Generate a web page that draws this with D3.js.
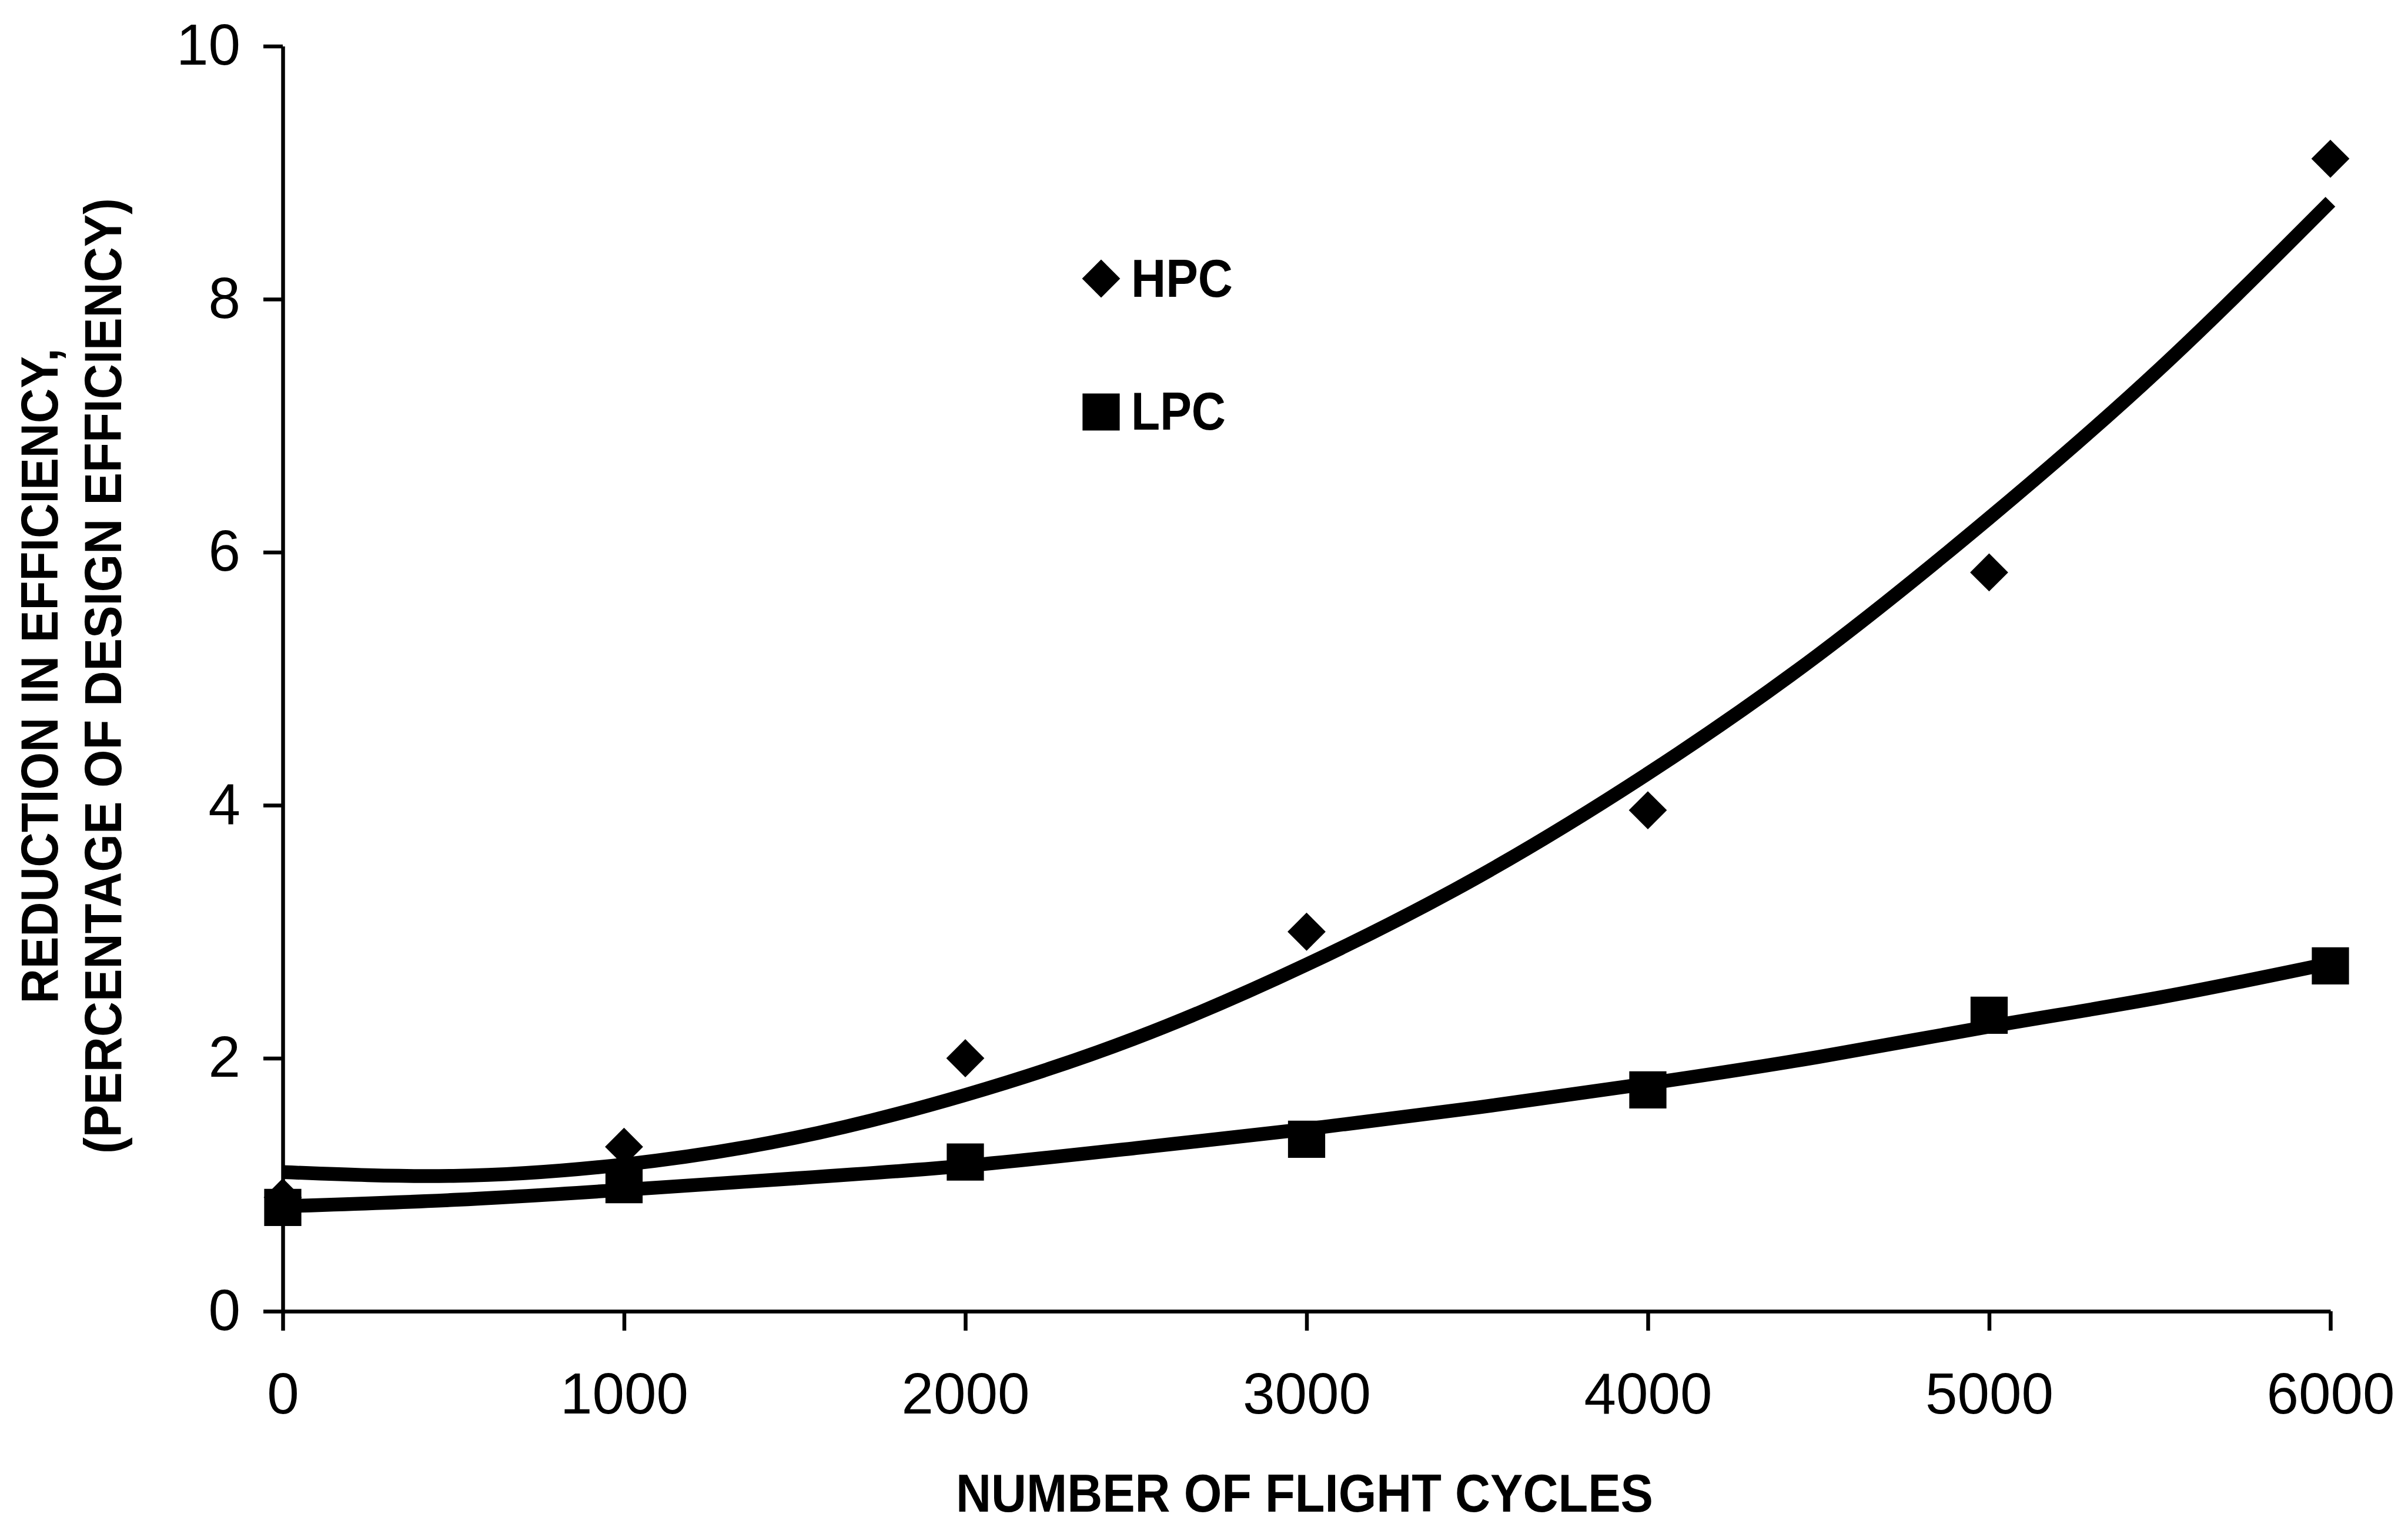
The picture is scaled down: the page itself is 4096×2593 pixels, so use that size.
<!DOCTYPE html>
<html>
<head>
<meta charset="utf-8">
<script src="https://cdn.jsdelivr.net/npm/d3@7"></script>
<style>
  html, body { margin: 0; padding: 0; background: #fff; }
  svg { display: block; }
</style>
</head>
<body>
<svg id="chart"></svg>
<script>
// values
const cycles = [0, 1000, 2000, 3000, 4000, 5000, 6000];
const hpcValues = [0.9, 1.3, 2.0, 3.0, 3.96, 5.84, 9.11];
const lpcValues = [0.82, 1.0, 1.18, 1.36, 1.75, 2.34, 2.73];

// trend curves as they appear in the picture, read every 500 cycles
const trendCycles = [0, 500, 1000, 1500, 2000, 2500, 3000, 3500, 4000, 4500, 5000, 5500, 6000];
const hpcTrend = [1.10, 1.07, 1.16, 1.37, 1.71, 2.16, 2.74, 3.43, 4.25, 5.19, 6.27, 7.45, 8.77];
const lpcTrend = [0.83, 0.88, 0.96, 1.05, 1.15, 1.29, 1.44, 1.61, 1.80, 2.01, 2.25, 2.48, 2.75];

const xTicks = [0, 1000, 2000, 3000, 4000, 5000, 6000];
const yTicks = [0, 2, 4, 6, 8, 10];
const seriesNames = ["HPC", "LPC"];

const width = 4096;
const height = 2593;
const font = "'Liberation Sans', Arial, Helvetica, sans-serif";

const svg = d3.select("#chart")
    .attr("width", width)
    .attr("height", height)
    .attr("viewBox", `0 0 ${width} ${height}`);

svg.append("rect")
    .attr("width", width)
    .attr("height", height)
    .attr("fill", "#fff");

const x = d3.scaleLinear().domain([0, 6000]).range([481, 3964]);
const y = d3.scaleLinear().domain([0, 10]).range([2231, 78.5]);

// axes
const xAxis = svg.append("g")
    .attr("transform", `translate(0, ${y(0)})`)
    .call(d3.axisBottom(x).tickValues(xTicks).tickFormat(d3.format("d"))
        .tickSize(33).tickSizeOuter(0).tickPadding(71));

const yAxis = svg.append("g")
    .attr("transform", `translate(${x(0)}, 0)`)
    .call(d3.axisLeft(y).tickValues(yTicks).tickFormat(d3.format("d"))
        .tickSize(33).tickSizeOuter(0).tickPadding(39));

[xAxis, yAxis].forEach(g => {
  g.selectAll("path, line")
      .attr("stroke", "#000")
      .attr("stroke-width", 6.5);
  g.selectAll("text")
      .attr("fill", "#000")
      .attr("font-family", font)
      .attr("font-size", 98);
});

// trend lines (evenly spaced points, so the natural spline stays smooth)
const line = d3.line()
    .x((d, i) => x(trendCycles[i]))
    .y(d => y(d))
    .curve(d3.curveNatural);

[hpcTrend, lpcTrend].forEach(series => {
  svg.append("path")
      .attr("d", line(series))
      .attr("fill", "none")
      .attr("stroke", "#000")
      .attr("stroke-width", 23.5);
});

// markers
const diamond = d3.symbol().type(d3.symbolSquare).size(2100);
const square = d3.symbol().type(d3.symbolSquare).size(4000);

svg.append("g").selectAll("path")
    .data(lpcValues)
    .join("path")
    .attr("d", square())
    .attr("transform", (d, i) => `translate(${x(cycles[i])}, ${y(d)})`)
    .attr("fill", "#000");

svg.append("g").selectAll("path")
    .data(hpcValues)
    .join("path")
    .attr("d", diamond())
    .attr("transform", (d, i) => `translate(${x(cycles[i])}, ${y(d)}) rotate(45)`)
    .attr("fill", "#000");

// legend
const legend = svg.append("g");
const legendRows = [
  {name: seriesNames[0], sym: diamond, rot: 45, cy: 474, base: 505, len: 173},
  {name: seriesNames[1], sym: square, rot: 0, cy: 701, base: 731, len: 161}
];
legendRows.forEach(r => {
  legend.append("path")
      .attr("d", r.sym())
      .attr("transform", `translate(1873, ${r.cy}) rotate(${r.rot})`)
      .attr("fill", "#000");
  legend.append("text")
      .attr("x", 1924)
      .attr("y", r.base)
      .attr("font-family", font)
      .attr("font-weight", "bold")
      .attr("font-size", 91)
      .attr("textLength", r.len)
      .attr("lengthAdjust", "spacingAndGlyphs")
      .text(r.name);
});

// axis titles
svg.append("text")
    .attr("x", 2219)
    .attr("y", 2572)
    .attr("text-anchor", "middle")
    .attr("font-family", font)
    .attr("font-weight", "bold")
    .attr("font-size", 91)
    .attr("textLength", 1186)
    .attr("lengthAdjust", "spacingAndGlyphs")
    .text("NUMBER OF FLIGHT CYCLES");

const yTitle = [
  {text: "REDUCTION IN EFFICIENCY,", x: 98, len: 1115},
  {text: "(PERCENTAGE OF DESIGN EFFICIENCY)", x: 206, len: 1626}
];
yTitle.forEach(t => {
  svg.append("text")
      .attr("transform", `translate(${t.x}, 1150) rotate(-90)`)
      .attr("text-anchor", "middle")
      .attr("font-family", font)
      .attr("font-weight", "bold")
      .attr("font-size", 89)
      .attr("textLength", t.len)
      .attr("lengthAdjust", "spacingAndGlyphs")
      .text(t.text);
});
</script>
</body>
</html>
